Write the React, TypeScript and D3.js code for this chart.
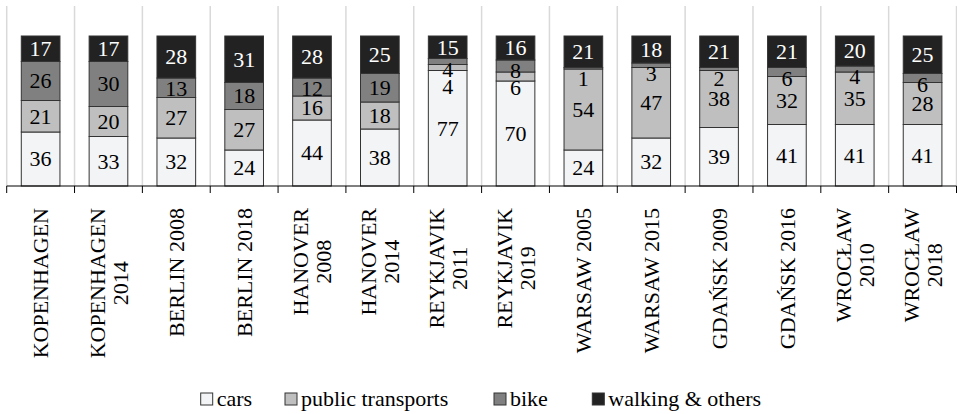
import React, { useEffect, useRef } from "react";
import * as d3 from "d3";

// Modal split per city and survey year (percent of trips)
const categories = [
  "KOPENHAGEN",
  "KOPENHAGEN\n2014",
  "BERLIN 2008",
  "BERLIN 2018",
  "HANOVER\n2008",
  "HANOVER\n2014",
  "REYKJAVIK\n2011",
  "REYKJAVIK\n2019",
  "WARSAW 2005",
  "WARSAW 2015",
  "GDAŃSK 2009",
  "GDAŃSK 2016",
  "WROCŁAW\n2010",
  "WROCŁAW\n2018",
];
const cars = [36, 33, 32, 24, 44, 38, 77, 70, 24, 32, 39, 41, 41, 41];
const publicTransports = [21, 20, 27, 27, 16, 18, 4, 6, 54, 47, 38, 32, 35, 28];
const bike = [26, 30, 13, 18, 12, 19, 4, 8, 1, 3, 2, 6, 4, 6];
const walking = [17, 17, 28, 31, 28, 25, 15, 16, 21, 18, 21, 21, 20, 25];

const seriesNames = ["cars", "public transports", "bike", "walking & others"];
const seriesValues = [cars, publicTransports, bike, walking];
const seriesFills = ["#f3f4f6", "#bfbfbf", "#808080", "#222222"];
const labelColors = ["#000", "#000", "#000", "#fff"];

const W = 957;
const H = 414;
const FONT = "'Liberation Serif', 'Times New Roman', serif";
const FS = 22;

export default function App() {
  const ref = useRef<SVGSVGElement | null>(null);

  useEffect(() => {
    const svg = d3.select(ref.current);
    svg.selectAll("*").remove();

    const x0 = 6.7;
    const x1 = 956.5;
    const yBottom = 186;
    const yTop = 6;

    const x = d3.scaleBand<number>().domain(d3.range(categories.length)).range([x0, x1]).padding(0);
    const y = d3.scaleLinear().domain([0, 120]).range([yBottom, yTop]);
    const barW = x.bandwidth() * 0.57;

    // vertical gridlines at category boundaries
    const bounds = d3.range(categories.length + 1).map((i) => x0 + i * x.step());
    svg
      .append("g")
      .selectAll("line")
      .data(bounds)
      .join("line")
      .attr("x1", (d) => d)
      .attr("x2", (d) => d)
      .attr("y1", yTop)
      .attr("y2", yBottom)
      .attr("stroke", "#d9d9d9")
      .attr("stroke-width", 1.5);

    // stacked bars
    const rows = categories.map((_, i) => {
      const r: Record<string, number> = {};
      seriesNames.forEach((s, k) => (r[s] = seriesValues[k][i]));
      return r;
    });
    const stacked = d3.stack<Record<string, number>>().keys(seriesNames)(rows);

    const gBars = svg.append("g");
    stacked.forEach((layer, k) => {
      gBars
        .append("g")
        .selectAll("rect")
        .data(layer)
        .join("rect")
        .attr("x", (_, i) => (x(i) as number) + (x.bandwidth() - barW) / 2)
        .attr("width", barW)
        .attr("y", (d) => y(d[1]))
        .attr("height", (d) => y(d[0]) - y(d[1]))
        .attr("fill", seriesFills[k])
        .attr("stroke", "#333")
        .attr("stroke-width", 1);
    });

    // value labels, placed from the top segment downward so small ones don't collide
    const gLabels = svg.append("g").attr("font-family", FONT).attr("font-size", FS);
    categories.forEach((_, i) => {
      const cx = (x(i) as number) + x.bandwidth() / 2;
      let prev = -Infinity;
      for (let k = seriesNames.length - 1; k >= 0; k--) {
        const seg = stacked[k][i];
        const top = y(seg[1]);
        const bottom = y(seg[0]);
        let cy = (top + bottom) / 2;
        cy = Math.max(cy, top + 11, prev + 17);
        prev = cy;
        gLabels
          .append("text")
          .attr("x", cx)
          .attr("y", cy)
          .attr("dy", "0.34em")
          .attr("text-anchor", "middle")
          .attr("fill", labelColors[k])
          .text(String(seriesValues[k][i]));
      }
    });

    // category axis
    svg
      .append("line")
      .attr("x1", x0)
      .attr("x2", x1)
      .attr("y1", yBottom)
      .attr("y2", yBottom)
      .attr("stroke", "#000")
      .attr("stroke-width", 1);
    svg
      .append("g")
      .selectAll("line")
      .data(bounds)
      .join("line")
      .attr("x1", (d) => d)
      .attr("x2", (d) => d)
      .attr("y1", yBottom)
      .attr("y2", yBottom + 7)
      .attr("stroke", "#000")
      .attr("stroke-width", 1);

    // rotated category labels, lines centred on each other, block top-aligned
    const lineH = 23.3;
    const labelTop = 208;
    const gCat = svg.append("g").attr("font-family", FONT).attr("font-size", FS).attr("fill", "#000");
    categories.forEach((name, i) => {
      const cx = (x(i) as number) + x.bandwidth() / 2;
      const lines = name.split("\n");
      const g = gCat.append("g").attr("transform", `translate(${cx},${labelTop}) rotate(-90)`);
      const texts = lines.map((ln, j) =>
        g
          .append("text")
          .attr("y", (j - (lines.length - 1) / 2) * lineH)
          .attr("dy", "0.35em")
          .attr("text-anchor", "middle")
          .text(ln)
      );
      const maxW = d3.max(texts, (t) => (t.node() as SVGTextElement).getComputedTextLength()) || 0;
      texts.forEach((t) => t.attr("x", -maxW / 2));
    });

    // legend
    const legendX = [200.7, 285, 494, 592.3];
    const gLeg = svg.append("g").attr("font-family", FONT).attr("font-size", FS);
    seriesNames.forEach((s, k) => {
      gLeg
        .append("rect")
        .attr("x", legendX[k])
        .attr("y", 393)
        .attr("width", 12)
        .attr("height", 12)
        .attr("fill", seriesFills[k])
        .attr("stroke", "#333")
        .attr("stroke-width", 1);
      gLeg
        .append("text")
        .attr("x", legendX[k] + 16)
        .attr("y", 405.5)
        .attr("fill", "#000")
        .text(s);
    });
  }, []);

  return (
    <svg
      ref={ref}
      width={W}
      height={H}
      viewBox={`0 0 ${W} ${H}`}
      style={{ position: "absolute", left: 0, top: 0, background: "#fff" }}
    />
  );
}
